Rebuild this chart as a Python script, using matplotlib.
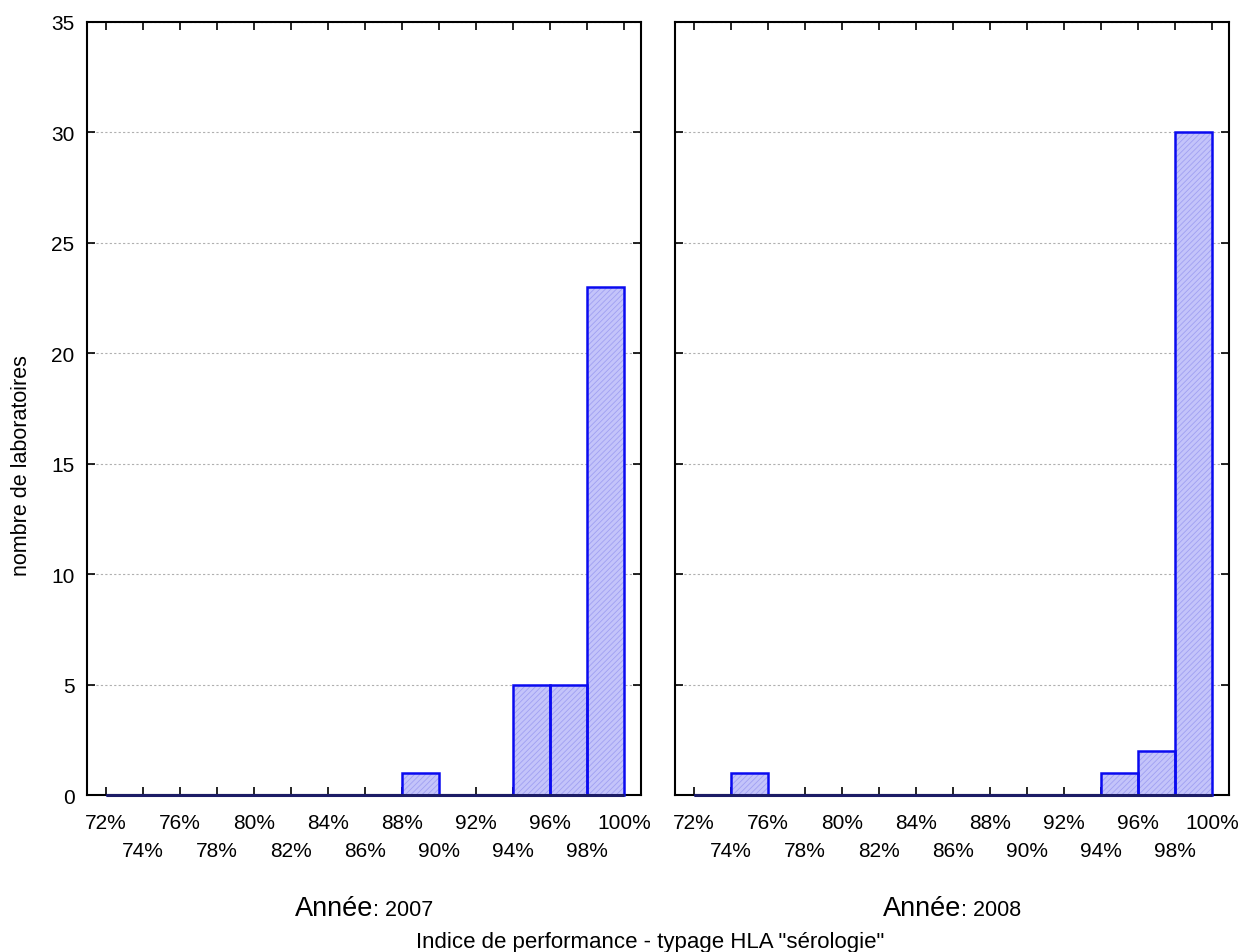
import matplotlib.pyplot as plt
import numpy as np

# classes de 2 % (bord gauche)
bins = [72, 74, 76, 78, 80, 82, 84, 86, 88, 90, 92, 94, 96, 98]
n_2007 = [0, 0, 0, 0, 0, 0, 0, 0, 1, 0, 0, 5, 5, 23]
n_2008 = [0, 1, 0, 0, 0, 0, 0, 0, 0, 0, 0, 1, 2, 30]
annees = ["2007", "2008"]
major_ticks = [72, 76, 80, 84, 88, 92, 96, 100]
minor_ticks = [74, 78, 82, 86, 90, 94, 98]

plt.rcParams['font.family'] = ['Liberation Sans', 'DejaVu Sans']
plt.rcParams['hatch.linewidth'] = 0.6

fig = plt.figure(figsize=(12.41, 9.53), dpi=100)
ax1 = fig.add_axes([87/1241, 1-796/953, (641-87)/1241, (796-23)/953])
ax2 = fig.add_axes([675/1241, 1-796/953, (1229-675)/1241, (796-23)/953])

for ax, n in zip([ax1, ax2], [n_2007, n_2008]):
    # remplissage hachuré
    ax.bar(bins, n, width=2, align='edge', facecolor='#c4c4fa', edgecolor='#a0a0f2',
           hatch='//////', linewidth=0, zorder=3, clip_on=False)
    # contour
    ax.bar(bins, n, width=2, align='edge', facecolor='none', edgecolor='#0a0af0',
           linewidth=1.8, zorder=4, clip_on=False)
    # base des barres (bleu foncé sur l'axe)
    ax.hlines(0, bins[0], bins[-1] + 2, color='#1c1c66', linewidth=2.2, zorder=5,
              clip_on=False)
    ax.set_xlim(70.97, 100.9)
    ax.set_ylim(0, 35)
    ax.set_yticks(np.arange(0, 36, 5))
    ax.yaxis.grid(True, linestyle=(0, (2, 2)), color='#b0b0b0', linewidth=0.8)
    ax.set_axisbelow(True)
    ax.set_xticks(major_ticks)
    ax.set_xticklabels([f"{t}%" for t in major_ticks])
    ax.set_xticks(minor_ticks, minor=True)
    ax.set_xticklabels([f"{t}%" for t in minor_ticks], minor=True)
    ax.tick_params(axis='x', which='both', direction='in', top=True, length=6,
                   width=1.2, labelsize=15)
    ax.tick_params(axis='x', which='major', pad=13)
    ax.tick_params(axis='x', which='minor', pad=33)
    ax.tick_params(axis='y', direction='in', right=True, length=6, width=1.2,
                   labelsize=15, pad=9)
    for s in ax.spines.values():
        s.set_linewidth(1.5)

ax2.tick_params(axis='y', labelleft=False)
ax1.set_ylabel("nombre de laboratoires", fontsize=15.5)
ax1.yaxis.set_label_coords(-0.099, 0.428)

for x, an in zip([373/1241, 961/1241], annees):
    fig.text(x, 1-916/953, "Année", fontsize=19.5, ha='right', va='baseline')
    fig.text(x, 1-916/953, ": " + an, fontsize=15.5, ha='left', va='baseline')

fig.text(650/1241, 1-948/953, 'Indice de performance - typage HLA "sérologie"',
         fontsize=16, ha='center', va='baseline')

plt.savefig("out.png", dpi=100)
